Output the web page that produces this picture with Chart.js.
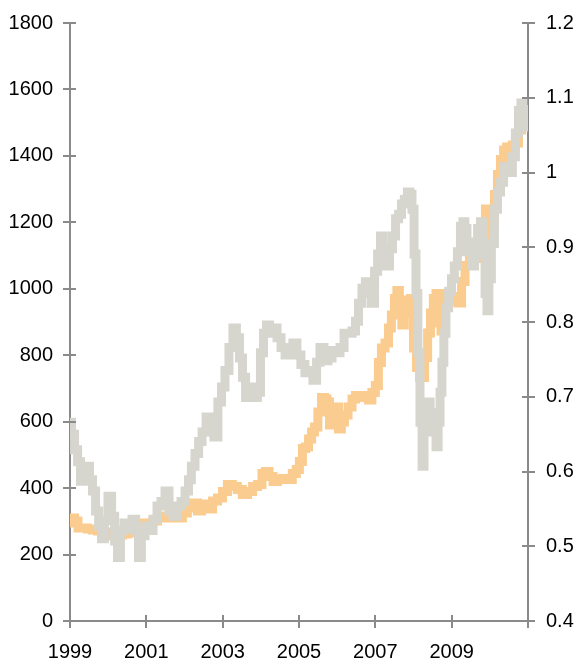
<!DOCTYPE html>
<html>
<head>
<meta charset="utf-8">
<script src="https://cdn.jsdelivr.net/npm/chart.js@4/dist/chart.umd.min.js"></script>
<style>
  html, body { margin: 0; padding: 0; background: #ffffff; }
  #wrap { width: 576px; height: 665px; position: relative; }
</style>
</head>
<body>
<div id="wrap"><canvas id="c" width="576" height="665"></canvas></div>
<script>
// ---- Data ----
// Gold price (left axis, USD)
const goldYears = [1999.00,1999.08,1999.16,1999.26,1999.39,1999.52,1999.65,1999.79,1999.92,2000.05,2000.18,2000.31,2000.44,2000.57,2000.70,2000.83,2000.96,2001.10,2001.23,2001.36,2001.49,2001.62,2001.75,2001.88,2002.01,2002.14,2002.27,2002.41,2002.48,2002.59,2002.67,2002.80,2002.93,2003.06,2003.19,2003.32,2003.45,2003.58,2003.72,2003.85,2003.98,2004.08,2004.16,2004.27,2004.37,2004.50,2004.63,2004.76,2004.89,2004.97,2005.05,2005.13,2005.21,2005.29,2005.37,2005.44,2005.55,2005.63,2005.71,2005.76,2005.84,2005.92,2006.00,2006.07,2006.15,2006.23,2006.34,2006.44,2006.52,2006.65,2006.78,2006.86,2006.96,2007.04,2007.12,2007.20,2007.31,2007.38,2007.46,2007.54,2007.59,2007.67,2007.72,2007.80,2007.88,2007.96,2008.04,2008.12,2008.20,2008.25,2008.33,2008.41,2008.48,2008.56,2008.62,2008.69,2008.75,2008.82,2008.90,2009.01,2009.11,2009.22,2009.30,2009.40,2009.53,2009.66,2009.74,2009.85,2009.92,2010.00,2010.08,2010.16,2010.24,2010.32,2010.40,2010.48,2010.55,2010.63,2010.71,2010.79,2010.87,2010.95,2011.00];
const goldValues = [295,310,301,280,280,277,274,271,268,265,256,259,262,265,271,277,295,295,301,310,316,310,313,310,325,340,355,331,352,346,337,361,370,390,411,405,396,381,390,405,411,444,450,435,420,426,429,426,444,456,480,519,524,548,569,584,629,673,668,659,590,614,644,578,599,620,644,668,679,679,673,665,688,709,778,822,837,882,921,971,995,942,891,927,966,971,822,763,733,733,793,867,927,971,986,897,873,971,986,977,963,957,1022,1070,1091,1091,1091,1159,1240,1234,1201,1284,1344,1389,1418,1427,1427,1433,1439,1478,1499,1538,1540];

// Ratio series (right axis)
const ratioYears = [1999.00,1999.08,1999.16,1999.24,1999.31,1999.39,1999.47,1999.55,1999.63,1999.71,1999.79,1999.86,1999.94,2000.05,2000.13,2000.21,2000.28,2000.36,2000.47,2000.57,2000.68,2000.76,2000.83,2000.91,2001.02,2001.12,2001.23,2001.33,2001.44,2001.54,2001.65,2001.75,2001.86,2001.96,2002.07,2002.14,2002.22,2002.33,2002.41,2002.51,2002.62,2002.72,2002.82,2002.93,2003.01,2003.11,2003.22,2003.32,2003.40,2003.48,2003.56,2003.64,2003.72,2003.79,2003.87,2003.95,2004.03,2004.11,2004.19,2004.27,2004.37,2004.48,2004.58,2004.69,2004.79,2004.89,2005.00,2005.10,2005.21,2005.31,2005.42,2005.50,2005.60,2005.71,2005.81,2005.92,2006.02,2006.13,2006.23,2006.34,2006.44,2006.52,2006.60,2006.70,2006.78,2006.86,2006.94,2007.02,2007.10,2007.17,2007.25,2007.33,2007.41,2007.49,2007.57,2007.65,2007.72,2007.80,2007.88,2007.93,2007.99,2008.04,2008.09,2008.14,2008.20,2008.25,2008.30,2008.35,2008.41,2008.46,2008.51,2008.56,2008.62,2008.67,2008.72,2008.77,2008.82,2008.88,2008.96,2009.03,2009.11,2009.19,2009.27,2009.32,2009.37,2009.43,2009.48,2009.56,2009.64,2009.72,2009.79,2009.85,2009.90,2009.95,2010.00,2010.08,2010.16,2010.24,2010.32,2010.40,2010.48,2010.55,2010.63,2010.71,2010.79,2010.84,2010.89,2010.95,2011.00];
const ratioValues = [0.666,0.650,0.629,0.613,0.587,0.593,0.607,0.589,0.574,0.547,0.527,0.510,0.534,0.567,0.540,0.507,0.485,0.521,0.531,0.523,0.536,0.521,0.485,0.514,0.527,0.521,0.536,0.554,0.560,0.574,0.547,0.540,0.554,0.560,0.574,0.589,0.607,0.624,0.640,0.653,0.673,0.656,0.646,0.693,0.713,0.735,0.766,0.792,0.779,0.752,0.726,0.699,0.709,0.713,0.699,0.706,0.759,0.785,0.796,0.785,0.792,0.779,0.766,0.756,0.766,0.772,0.756,0.743,0.732,0.735,0.722,0.746,0.766,0.748,0.752,0.762,0.759,0.766,0.785,0.785,0.788,0.801,0.825,0.845,0.854,0.838,0.825,0.868,0.891,0.915,0.894,0.875,0.898,0.915,0.938,0.944,0.958,0.964,0.974,0.971,0.951,0.891,0.838,0.759,0.666,0.607,0.653,0.679,0.693,0.679,0.666,0.653,0.633,0.666,0.706,0.746,0.785,0.819,0.841,0.858,0.875,0.894,0.928,0.934,0.925,0.907,0.894,0.875,0.905,0.925,0.934,0.891,0.838,0.815,0.858,0.905,0.951,0.974,0.987,1.008,1.008,1.000,1.021,1.053,1.083,1.093,1.079,1.066,1.061];

// Axis ticks
const xTickYears  = [1999, 2001, 2003, 2005, 2007, 2009, 2011];
const xTickLabels = ['1999', '2001', '2003', '2005', '2007', '2009', ''];
const leftTicks   = [0, 200, 400, 600, 800, 1000, 1200, 1400, 1600, 1800];
const rightTicks  = [0.4, 0.5, 0.6, 0.7, 0.8, 0.9, 1.0, 1.1, 1.2];

// ---- Styles ----
const AXIS_COLOR = '#8a8a8a';
const GOLD_COLOR = '#fbcc90';
const RATIO_COLOR = '#d6d5ce';
const FONT = { family: '"Liberation Sans", Arial, sans-serif', size: 20 };

const toPts = (xs, ys) => xs.map((x, i) => ({ x: x, y: ys[i] }));

const crossTicks = {
  id: 'crossTicks',
  afterDraw(chart) {
    const ctx = chart.ctx;
    const { x, y, y2 } = chart.scales;
    ctx.save();
    ctx.strokeStyle = AXIS_COLOR;
    ctx.lineWidth = 2;
    ctx.beginPath();
    y.ticks.forEach((t, i) => {
      const p = Math.round(y.getPixelForTick(i));
      ctx.moveTo(y.right - 7, p); ctx.lineTo(y.right + 6, p);
    });
    y2.ticks.forEach((t, i) => {
      const p = Math.round(y2.getPixelForTick(i));
      ctx.moveTo(y2.left - 6, p); ctx.lineTo(y2.left + 7, p);
    });
    x.ticks.forEach((t, i) => {
      const p = Math.round(x.getPixelForTick(i));
      ctx.moveTo(p, x.top - 6); ctx.lineTo(p, x.top + 7);
    });
    ctx.stroke();
    ctx.restore();
  }
};

new Chart(document.getElementById('c'), {
  type: 'line',
  data: {
    datasets: [
      {
        label: 'Ratio',
        data: toPts(ratioYears, ratioValues),
        yAxisID: 'y2',
        borderColor: RATIO_COLOR,
        borderWidth: 9,
        borderJoinStyle: 'miter',
        borderCapStyle: 'butt',
        stepped: 'middle',
        pointRadius: 0,
        order: 0
      },
      {
        label: 'Gold',
        data: toPts(goldYears, goldValues),
        yAxisID: 'y',
        borderColor: GOLD_COLOR,
        borderWidth: 9,
        borderJoinStyle: 'miter',
        borderCapStyle: 'butt',
        stepped: 'middle',
        pointRadius: 0,
        order: 1
      }
    ]
  },
  options: {
    responsive: false,
    animation: false,
    layout: { padding: { top: 17, left: 0, right: 0, bottom: 0 } },
    plugins: { legend: { display: false }, tooltip: { enabled: false } },
    scales: {
      x: {
        type: 'linear',
        min: 1999, max: 2011,
        afterBuildTicks: (s) => { s.ticks = xTickYears.map(v => ({ value: v })); },
        afterFit: (s) => { s.height = 44; },
        border: { display: true, color: AXIS_COLOR, width: 2 },
        grid: { display: true, drawOnChartArea: false, drawTicks: true, tickLength: 7, tickColor: 'rgba(0,0,0,0)' },
        ticks: {
          color: '#000', font: FONT, padding: 12, maxRotation: 0, autoSkip: false,
          callback: (v) => { const i = xTickYears.indexOf(v); return i >= 0 ? xTickLabels[i] : ''; }
        }
      },
      y: {
        position: 'left',
        min: 0, max: 1800,
        afterBuildTicks: (s) => { s.ticks = leftTicks.map(v => ({ value: v })); },
        afterFit: (s) => { s.width = 70; },
        border: { display: true, color: AXIS_COLOR, width: 2 },
        grid: { display: true, drawOnChartArea: false, drawTicks: true, tickLength: 7, tickColor: 'rgba(0,0,0,0)' },
        ticks: { color: '#000', font: FONT, padding: 10, callback: (v) => String(v) }
      },
      y2: {
        position: 'right',
        min: 0.4, max: 1.2,
        afterBuildTicks: (s) => { s.ticks = rightTicks.map(v => ({ value: v })); },
        afterFit: (s) => { s.width = 48; },
        border: { display: true, color: AXIS_COLOR, width: 2 },
        grid: { display: true, drawOnChartArea: false, drawTicks: true, tickLength: 7, tickColor: 'rgba(0,0,0,0)' },
        ticks: { color: '#000', font: FONT, padding: 11, callback: (v) => String(Number(v.toFixed(1))) }
      }
    }
  },
  plugins: [crossTicks]
});
</script>
</body>
</html>
